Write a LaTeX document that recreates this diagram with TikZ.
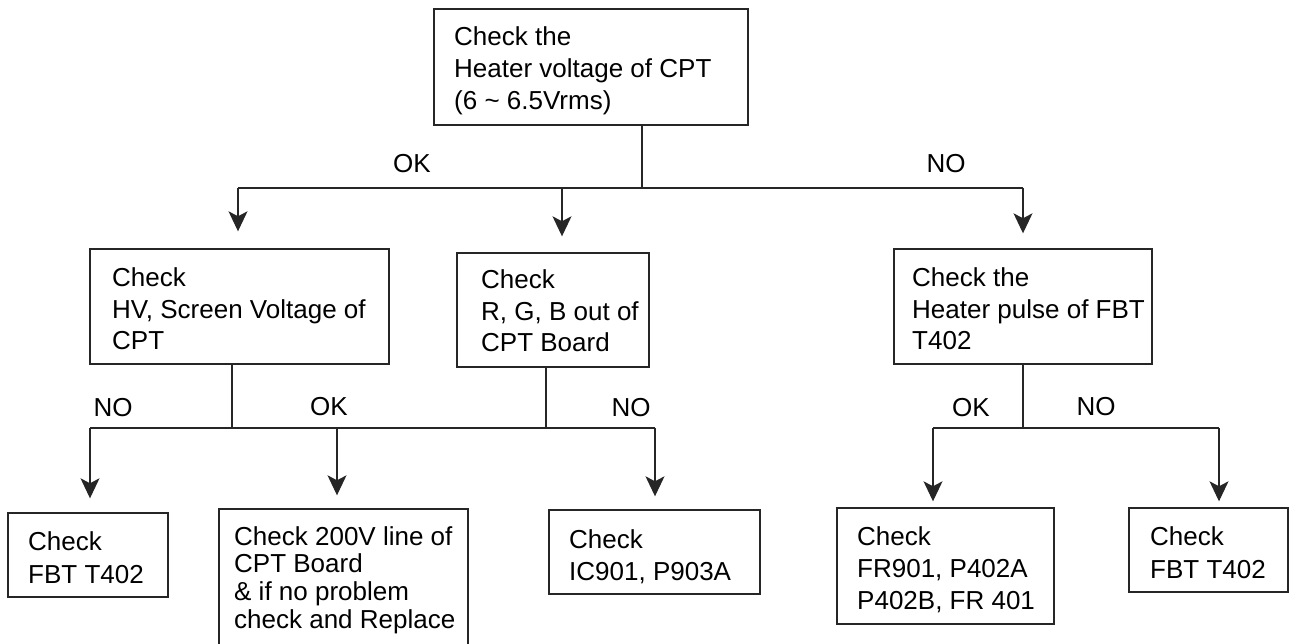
\documentclass[tikz,border=0pt]{standalone}
\usepackage{fontspec}
\setmainfont{Liberation Sans}
\usetikzlibrary{arrows.meta}
\newcommand\mlines[2]{\vtop{\baselineskip=#1\lineskip=0pt\halign{##\hfil\cr #2\crcr}}}
\begin{document}
\begin{tikzpicture}[x=1pt,y=-1pt,
  box/.style={draw=black!85, line width=1.4pt, inner sep=0pt},
  txt/.style={anchor=base west, inner sep=0pt, font=\fontsize{26}{32}\selectfont},
  lbl/.style={anchor=base, inner sep=0pt, font=\fontsize{26}{32}\selectfont},
  wire/.style={line width=1.2pt, draw=black!85},
  arr/.style={wire, -{Stealth[length=20pt,width=19pt,inset=5pt]}}]
\useasboundingbox (0,0) rectangle (1291,644);
\clip (0,0) rectangle (1291,644);
% boxes
\node[box, minimum width=314pt, minimum height=116pt] (T) at (591,67) {};
\node[box, minimum width=299pt, minimum height=115pt] (L1) at (239.5,306.5) {};
\node[box, minimum width=192pt, minimum height=114pt] (C1) at (553,310) {};
\node[box, minimum width=258pt, minimum height=115pt] (R1) at (1023,306.5) {};
\node[box, minimum width=160pt, minimum height=84pt] (B1) at (88,555) {};
\node[box, minimum width=249pt, minimum height=171pt] (B2) at (343.5,594.5) {};
\node[box, minimum width=211pt, minimum height=84pt] (B3) at (654.5,552) {};
\node[box, minimum width=217pt, minimum height=116pt] (B4) at (945.5,566) {};
\node[box, minimum width=159pt, minimum height=84pt] (B5) at (1208.5,550) {};
% texts
\node[txt] (Tt) at (454,46) {\mlines{32pt}{Check the\cr Heater voltage of CPT\cr (6 \char`\~{} 6.5Vrms)}};
\node[txt] (L1t) at (112,287) {\mlines{31.5pt}{Check\cr HV, Screen Voltage of\cr CPT}};
\node[txt] (C1t) at (481,289) {\mlines{31.5pt}{Check\cr R, G, B out of\cr CPT Board}};
\node[txt] (R1t) at (912,287) {\mlines{31.5pt}{Check the\cr Heater pulse of FBT\cr T402}};
\node[txt] (B1t) at (28,550) {\mlines{33pt}{Check\cr FBT T402}};
\node[txt] (B2t) at (234,545) {\mlines{27.7pt}{Check 200V line of\cr CPT Board\cr \& if no problem\cr check and Replace}};
\node[txt] (B3t) at (569,548) {\mlines{32pt}{Check\cr IC901, P903A}};
\node[txt] (B4t) at (857,545) {\mlines{32pt}{Check\cr FR901, P402A\cr P402B, FR 401}};
\node[txt] (B5t) at (1150,545) {\mlines{33pt}{Check\cr FBT T402}};
% junction coordinates
\coordinate (j0) at (642,188);
\coordinate (j0L) at (238,188);
\coordinate (j0C) at (562,188);
\coordinate (j0R) at (1023,188);
\coordinate (j1) at (232,428);
\coordinate (j1b) at (546,428);
\coordinate (j1L) at (90,428);
\coordinate (j1M) at (337,428);
\coordinate (j1N) at (655,428);
\coordinate (j2) at (1023,428);
\coordinate (j2L) at (933,428);
\coordinate (j2R) at (1219,428);
% level 0
\draw[wire] (T.south -| j0) -- (j0);
\draw[wire] (j0L) -- (j0R);
\draw[arr, shorten >=17pt] (j0L) -- (j0L |- L1.north);
\draw[arr, shorten >=16pt] (j0C) -- (j0C |- C1.north);
\draw[arr, shorten >=15pt] (j0R) -- (j0R |- R1.north);
\node[lbl] (ok0) at (412,173) {OK};
\node[lbl] (no0) at (946,173) {NO};
% level 1 left/centre
\draw[wire] (L1.south -| j1) -- (j1);
\draw[wire] (C1.south -| j1b) -- (j1b);
\draw[wire] (j1L) -- (j1N);
\draw[arr, shorten >=14pt] (j1L) -- (j1L |- B1.north);
\draw[arr, shorten >=13pt] (j1M) -- (j1M |- B2.north);
\draw[arr, shorten >=13pt] (j1N) -- (j1N |- B3.north);
\node[lbl] (no1) at (113,417) {NO};
\node[lbl] (ok1) at (329,415) {OK};
\node[lbl] (no2) at (631,417) {NO};
% level 1 right
\draw[wire] (R1.south) -- (j2);
\draw[wire] (j2L) -- (j2R);
\draw[arr, shorten >=6pt] (j2L) -- (j2L |- B4.north);
\draw[arr, shorten >=6pt] (j2R) -- (j2R |- B5.north);
\node[lbl] (ok2) at (971,417) {OK};
\node[lbl] (no3) at (1096,415) {NO};
\end{tikzpicture}
\end{document}
